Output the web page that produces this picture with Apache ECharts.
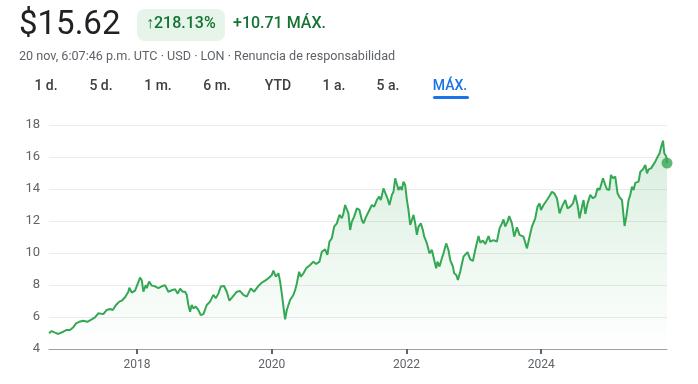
<!DOCTYPE html>
<html>
<head>
<meta charset="utf-8">
<script src="https://cdn.jsdelivr.net/npm/echarts@6/dist/echarts.min.js"></script>
<style>
html,body{margin:0;padding:0;background:#fff;}
#c{width:698px;height:384px;}
</style>
</head>
<body>
<div id="c"></div>
<script>
// Decimal-year positions and close prices
const years = [
2016.693,2016.733,2016.782,2016.831,2016.905,2016.956,2017.005,2017.054,2017.094,2017.143,
2017.202,2017.262,2017.327,2017.376,2017.425,2017.450,2017.499,2017.550,2017.599,2017.639,
2017.688,2017.737,2017.773,2017.822,2017.871,2017.886,2017.921,2017.970,2018.045,2018.070,
2018.094,2018.129,2018.144,2018.178,2018.218,2018.267,2018.316,2018.367,2018.416,2018.465,
2018.515,2018.564,2018.604,2018.639,2018.679,2018.713,2018.738,2018.762,2018.787,2018.812,
2018.836,2018.872,2018.910,2018.946,2018.985,2019.035,2019.084,2019.133,2019.169,2019.207,
2019.243,2019.292,2019.332,2019.371,2019.421,2019.481,2019.530,2019.579,2019.629,2019.689,
2019.738,2019.802,2019.852,2019.901,2019.950,2020.001,2020.024,2020.060,2020.099,2020.124,
2020.149,2020.173,2020.198,2020.223,2020.247,2020.272,2020.321,2020.347,2020.372,2020.406,
2020.431,2020.470,2020.510,2020.569,2020.618,2020.659,2020.708,2020.743,2020.792,2020.826,
2020.856,2020.892,2020.926,2020.966,2021.005,2021.040,2021.064,2021.089,2021.114,2021.138,
2021.163,2021.189,2021.223,2021.263,2021.302,2021.337,2021.361,2021.401,2021.450,2021.486,
2021.520,2021.560,2021.594,2021.619,2021.658,2021.683,2021.717,2021.747,2021.783,2021.807,
2021.832,2021.857,2021.881,2021.906,2021.931,2021.955,2021.980,2022.006,2022.029,2022.055,
2022.080,2022.104,2022.129,2022.154,2022.178,2022.213,2022.243,2022.263,2022.303,2022.341,
2022.377,2022.411,2022.441,2022.460,2022.490,2022.525,2022.549,2022.589,2022.623,2022.649,
2022.689,2022.708,2022.738,2022.763,2022.797,2022.822,2022.846,2022.871,2022.906,2022.946,
2022.986,2023.020,2023.069,2023.094,2023.134,2023.169,2023.218,2023.243,2023.292,2023.342,
2023.381,2023.417,2023.440,2023.465,2023.500,2023.525,2023.565,2023.599,2023.639,2023.678,
2023.737,2023.788,2023.822,2023.862,2023.911,2023.945,2023.975,2023.996,2024.034,2024.085,
2024.123,2024.159,2024.193,2024.233,2024.272,2024.308,2024.357,2024.391,2024.431,2024.471,
2024.505,2024.539,2024.569,2024.605,2024.628,2024.654,2024.688,2024.728,2024.768,2024.802,
2024.836,2024.866,2024.917,2024.951,2024.976,2025.010,2025.035,2025.065,2025.099,2025.133,
2025.163,2025.199,2025.223,2025.237,2025.263,2025.297,2025.322,2025.347,2025.371,2025.396,
2025.445,2025.471,2025.511,2025.545,2025.570,2025.594,2025.630,2025.659,2025.693,2025.728,
2025.757,2025.782,2025.808,2025.827,2025.857,2025.867
];
const prices = [
4.98,5.12,5.02,4.94,5.08,5.19,5.19,5.36,5.60,5.70,
5.77,5.70,5.85,5.98,6.23,6.12,6.18,6.44,6.50,6.44,
6.75,6.96,7.02,7.23,7.58,7.83,7.52,7.65,8.46,8.30,
7.58,8.00,7.80,8.21,7.96,7.92,7.81,7.92,7.98,7.58,
7.67,7.73,7.46,7.77,7.58,7.58,7.38,6.75,6.33,6.75,
6.54,6.65,6.44,6.12,6.18,6.75,6.96,7.38,7.17,7.46,
7.90,7.94,7.58,7.02,7.27,7.58,7.62,7.38,7.27,7.79,
7.58,7.94,8.15,8.27,8.42,8.63,8.90,8.52,8.73,8.21,
7.48,6.65,5.85,6.44,6.33,7.06,7.38,7.69,8.10,8.83,
8.52,8.73,9.04,9.25,9.46,9.31,9.46,10.08,10.23,9.88,
10.71,10.92,11.65,11.85,12.38,12.17,12.48,13.00,13.10,12.48,
11.44,11.96,12.27,12.79,12.69,12.06,11.85,12.27,12.69,13.00,
12.90,13.31,13.52,13.31,14.04,13.94,13.42,13.00,13.63,13.83,
14.67,14.77,13.94,14.15,13.94,14.46,14.25,13.31,12.69,11.75,
12.06,12.38,11.85,11.13,11.65,11.85,11.44,11.02,10.60,9.98,
10.19,9.56,9.04,9.46,9.15,9.67,9.98,10.60,10.19,9.56,
9.15,8.73,8.63,8.31,8.83,8.94,9.77,9.88,10.05,9.60,
9.50,10.19,11.06,10.65,10.77,10.56,11.06,10.71,10.81,10.71,
11.54,11.85,12.10,11.65,11.96,12.31,11.85,11.02,11.60,11.13,
11.02,10.29,10.92,11.65,12.17,12.90,13.10,12.69,13.00,13.31,
13.56,13.83,13.73,13.42,12.48,12.90,13.31,12.79,12.90,13.10,
13.63,13.00,12.17,12.90,13.31,12.44,13.10,13.63,13.42,13.52,
14.04,13.94,14.67,14.25,13.98,13.94,14.88,14.67,14.77,13.73,
13.48,13.31,12.27,11.69,12.27,13.31,13.63,14.15,13.94,14.38,
14.46,15.08,15.23,15.50,14.98,15.23,15.29,15.19,15.71,16.02,
16.23,16.65,17.02,16.23,16.02,15.62
];
const yearTicks = [2018, 2020, 2022, 2024];
const tabLabels = ['1 d.', '5 d.', '1 m.', '6 m.', 'YTD', '1 a.', '5 a.', 'MÁX.'];
const tabCenters = [46, 101, 158, 217, 278, 334, 388, 450];

const lineData = years.map((y, i) => [y, prices[i]]);
const last = lineData[lineData.length - 1];
const green = '#34a853';
const FONT = 'Roboto, "Noto Sans", Arial, sans-serif';

const graphics = [
  { type: 'text', left: 19, top: 9, style: { text: '$15.62', font: '400 33px ' + FONT, fill: '#202124' } },
  { type: 'rect', shape: { x: 137, y: 9, width: 88, height: 32, r: 8 }, style: { fill: '#e6f4ea' } },
  { type: 'text', left: 146, top: 16, style: { text: '↑218.13%', font: '500 16px ' + FONT, fill: '#137333' } },
  { type: 'text', left: 233, top: 16, style: { text: '+10.71 MÁX.', font: '500 16px ' + FONT, fill: '#137333' } },
  { type: 'text', left: 19, top: 50, style: { text: '20 nov, 6:07:46 p.m. UTC · USD · LON · Renuncia de responsabilidad', font: '400 12.6px ' + FONT, fill: '#5f6368' } }
];
tabLabels.forEach((t, i) => {
  const active = i === tabLabels.length - 1;
  graphics.push({
    type: 'text', x: tabCenters[i], y: 86,
    style: { text: t, font: '500 14px ' + FONT, fill: active ? '#1a73e8' : '#3c4043', align: 'center', verticalAlign: 'middle' }
  });
});
graphics.push({ type: 'rect', shape: { x: 433, y: 96, width: 36, height: 3, r: 1.5 }, style: { fill: '#1a73e8' } });

const chart = echarts.init(document.getElementById('c'), null, { renderer: 'canvas' });
chart.setOption({
  animation: false,
  backgroundColor: '#fff',
  graphic: graphics,
  grid: { left: 49, right: 31, top: 125, bottom: 35 },
  xAxis: {
    type: 'value',
    min: years[0],
    max: years[years.length - 1],
    splitLine: { show: false },
    axisLine: { show: true, lineStyle: { color: '#9aa0a6', width: 1 } },
    axisTick: { show: true, customValues: yearTicks, length: 5, inside: false, lineStyle: { color: '#5f6368', width: 2 } },
    axisLabel: { customValues: yearTicks, formatter: v => String(Math.round(v)), color: '#5f6368', fontSize: 12, fontFamily: FONT, margin: 10 }
  },
  yAxis: {
    type: 'value',
    min: 4, max: 18, interval: 2,
    axisLine: { show: false },
    axisTick: { show: false },
    axisLabel: { color: '#5f6368', fontSize: 13, fontFamily: FONT, margin: 9 },
    splitLine: { lineStyle: { color: '#ebebeb', width: 1 } }
  },
  series: [
    {
      type: 'line',
      data: lineData,
      showSymbol: false,
      smooth: false,
      lineStyle: { color: green, width: 2 },
      areaStyle: {
        color: new echarts.graphic.LinearGradient(0, 0, 0, 1, [
          { offset: 0, color: 'rgba(52,168,83,0.28)' },
          { offset: 1, color: 'rgba(52,168,83,0.0)' }
        ])
      },
      z: 2
    },
    {
      type: 'scatter',
      data: [last],
      symbolSize: 11,
      itemStyle: { color: green },
      z: 3
    }
  ]
});
</script>
</body>
</html>
